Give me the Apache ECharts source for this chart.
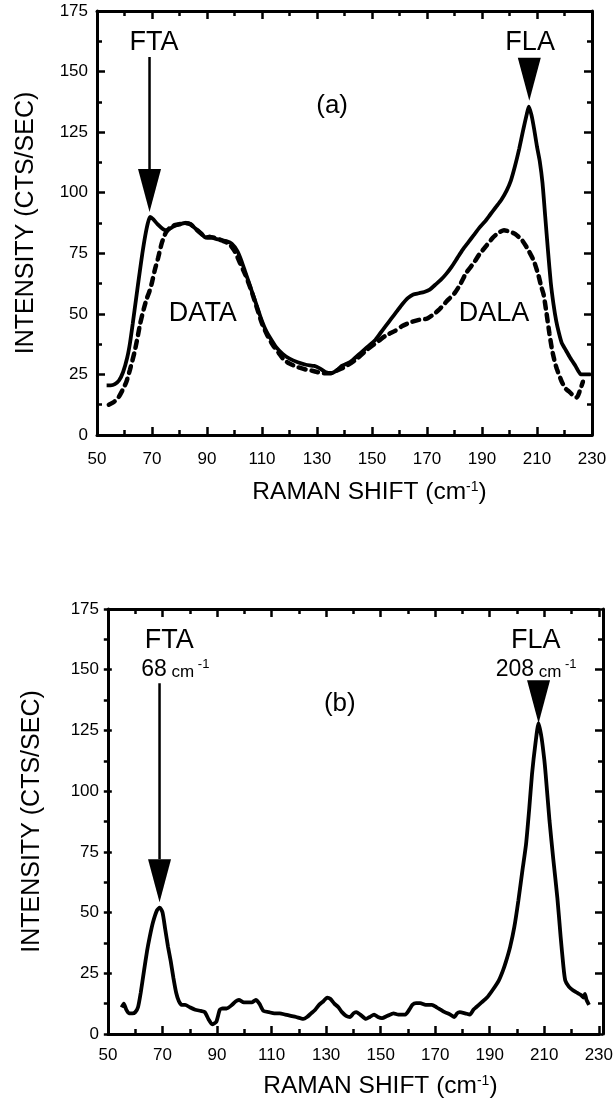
<!DOCTYPE html>
<html><head><meta charset="utf-8">
<script src="https://cdn.jsdelivr.net/npm/echarts@6/dist/echarts.min.js"></script>
<style>html,body{margin:0;padding:0;background:#fff}#c{width:616px;height:1106px}</style>
</head><body><div id="c"></div>
<script>
// ---- data ----
const xRange = [50, 230];
const xStep = 20;
const yRange = [0, 175];
const yStep = 25;

// Panel (a): solid spectrum
const topSolid = [[53.5,20.5],[55,20.5],[56.5,21],[58,22.5],[59.5,26],[61,32],[62,38],[63,46],[64.3,57],[65.5,67],[66.5,75],[67.5,82],[68.5,87.5],[69.3,90],[70.5,89],[72,87],[74,85],[75.5,84.5],[77,85.5],[78.5,86.5],[80,87],[82,87.5],[84,87],[86,85],[88,83],[89.5,81.5],[91,82],[93,81],[95,80.5],[97,80],[99,79],[101,76],[102.5,72],[104,67],[105.5,62],[107,57],[108.5,52],[110,47],[111.5,43],[113,40],[115,36.5],[117.5,33.5],[120,31.5],[123,30],[126,29],[129,28.5],[131,27.5],[133,26],[135,25.5],[137,26.5],[139,28.5],[141,29.5],[143,31],[145,33],[147,35],[149,37],[151,39],[153,42],[155,45],[157,48],[159,51],[161,54],[163,56.5],[165,58],[167,58.5],[169,59],[171,60],[173,62],[175,64],[177,66.5],[179,69.5],[181,73],[183,76.5],[185,79.5],[187,82.5],[189,85.5],[191,88],[193,91],[195,94],[197,97],[199,101],[200.5,105],[202,111],[203.5,118],[205,126],[206.2,132],[207,135.5],[208,132],[209,126],[210,119],[211,113],[212,104],[213,90],[214,76],[215,63],[216,54],[217,47],[218,42],[219,38],[220.5,35],[222,32],[224,28.5],[226,25],[228,25],[229.5,25]];

// Panel (a): dashed spectrum
const topDashed = [[54.3,12.5],[56,13.5],[57.8,15.5],[59.5,19],[60.7,22],[62,27],[63.6,34],[64.7,40],[65.7,46],[67,52],[68,56],[69,59],[70,63],[71,68],[72.2,73],[73.5,79],[75,83.5],[76.5,85.5],[78,86.5],[80,87],[82,87.5],[84,87],[86,85],[88,83],[90,81.5],[92,81.5],[94,81],[96,80],[98,79],[100,76],[102,71],[104,66],[106,60],[108,53],[110,46],[112,41],[114,37],[116,34],[118,31],[120,29.5],[123,28],[126,27],[128.3,26.5],[130,26],[132,25.5],[135,25.5],[137,26.5],[140,28],[144,31],[148,35],[152.6,39],[155,41],[158.4,43],[161,45],[164,46.5],[167,47.5],[170,48],[172,49.5],[174.3,51.6],[177,55],[180,58.5],[182,62],[184.3,67],[187,71],[189,74.5],[191.5,78],[194,81.5],[196,83.5],[198,84.5],[200,84],[202,83],[204.5,80.5],[206.5,77],[208.8,72],[210.5,66],[211.6,61],[212.4,58],[213.5,50],[214.5,42],[215.5,35],[216.5,30],[217.3,27],[219,22],[220.5,19],[221.6,18],[223,16.5],[224.5,15.5],[225.5,18],[226.7,22]];

// Panel (b): spectrum
const bottomSpectrum = [[55,11],[55.8,12.5],[56.7,10],[57.7,8.5],[59,8.5],[60,9],[61,11],[62,17],[63.2,26],[64.3,34],[65.3,40],[66.5,46],[68,51],[69,52],[70,50],[71,43],[72,36],[73,30],[74,23],[75,17],[76,13.5],[77,12],[78.3,12],[80,11],[82,10],[84,9.5],[85.5,9],[86.9,6],[88.2,4],[89.7,5],[91,10],[92,10.5],[93.5,10.5],[95.5,12],[96.9,13.5],[98,14],[99.8,13],[101.5,13],[102.7,13],[104.2,14],[105.5,12.5],[107,9.5],[109,9],[111,8.5],[113,8.5],[115,8],[117,7.5],[119,7],[121.6,6.2],[123,7],[124.5,8.5],[126,10],[127.4,12],[129,13.5],[130.4,15],[131.5,14.5],[133,12.5],[134.5,11],[135.8,9],[137.3,7.5],[138.8,7],[140,8.5],[141,9],[142.5,8],[144.6,6.2],[146,7],[147.6,8],[149,7],[150.5,6.5],[152.5,7.5],[154.7,8.5],[156.5,8],[159,8],[160.5,10],[161.6,12],[163,12.7],[164.5,12.7],[166.5,12],[168.8,12],[170.5,11],[172,10],[173.5,9],[175.5,8],[177,7],[178,8.5],[179,9],[181,8.5],[182.7,8],[184,10],[185,11],[187,13],[189,15],[191,18],[193.3,22],[194.8,26],[196,30],[197.5,36],[199,44],[200.5,55],[202,67.5],[203.3,78],[204.5,93],[205.5,107],[206.8,120],[207.9,128],[209,122],[210,113],[210.5,107],[211.9,88],[213.3,72],[214.8,56],[216,40],[217,28],[217.7,22],[219,19.5],[220.5,18],[222,17],[223.5,16],[224.4,15],[224.9,16.5],[225.5,14],[226.4,12]];

// Annotations (data coordinates)
const topTexts = [
  {pos:[70.7,161.8], text:'{b|FTA}'},
  {pos:[207.5,161.8], text:'{b|FLA}'},
  {pos:[135.5,136], text:'{p|(a)}'},
  {pos:[88.5,50.3], text:'{b|DATA}'},
  {pos:[194.4,50.3], text:'{b|DALA}'}
];
const bottomTexts = [
  {pos:[72.5,162], text:'{b|FTA}'},
  {pos:[74.7,150], text:'{n|68}{c| cm}{s| -1}'},
  {pos:[206.9,162], text:'{b|FLA}'},
  {pos:[207,150], text:'{n|208}{c| cm}{s| -1}'},
  {pos:[135,136], text:'{p|(b)}'}
];
const topShafts = [[69.1,156,109]];
const bottomShafts = [[68.9,144.4,72]];
const topHeads = [[69.1,92],[207.2,138]];
const bottomHeads = [[68.9,54.3],[207.9,128]];

// ---- chart ----
const FONT = '"Liberation Sans", Arial, Helvetica, sans-serif';
const BLACK = '#000';
const richText = {
  b:{fontSize:27, fontFamily:FONT, color:BLACK},
  p:{fontSize:26, fontFamily:FONT, color:BLACK},
  n:{fontSize:23, fontFamily:FONT, color:BLACK, verticalAlign:'bottom'},
  c:{fontSize:17, fontFamily:FONT, color:BLACK, verticalAlign:'bottom'},
  s:{fontSize:13, fontFamily:FONT, color:BLACK, verticalAlign:'top'}
};
const TICK = {show:true, length:8, lineStyle:{color:BLACK, width:2.5}};
const MINOR = {show:true, splitNumber:2, length:5, lineStyle:{color:BLACK, width:2.5}};
const LINE = {show:true, onZero:false, lineStyle:{color:BLACK, width:3}};
const NOLINE = {show:false, onZero:false};

// Labelled main axis (no ticks) + two tick-only axes shifted across the grid
// so that their outward ticks point into the plot (mirrored inside ticks).
function xAxes(g, H, gap, margin, pad){
  const base = {gridIndex:g, type:'value', min:xRange[0], max:xRange[1], interval:xStep,
    splitLine:{show:false}, minorSplitLine:{show:false}};
  return [
    Object.assign({}, base, {position:'bottom', axisLine:LINE, axisTick:{show:false}, minorTick:{show:false},
      axisLabel:{show:true, margin:margin, color:BLACK, fontSize:17, fontFamily:FONT},
      name:'{t|RAMAN SHIFT (cm}{s|-1}{t|)}', nameLocation:'middle', nameGap:gap,
      nameTextStyle:{padding:[0,0,0,pad], rich:{t:{fontSize:24.5, fontFamily:FONT, color:BLACK}, s:{fontSize:14, fontFamily:FONT, color:BLACK, verticalAlign:'top'}}}
    }),
    Object.assign({}, base, {position:'top', offset:-H, axisLine:NOLINE, axisTick:TICK, minorTick:MINOR, axisLabel:{show:false}}),
    Object.assign({}, base, {position:'bottom', offset:-H, axisLine:LINE, axisTick:TICK, minorTick:MINOR, axisLabel:{show:false}})
  ];
}
function yAxes(g, W, gap){
  const base = {gridIndex:g, type:'value', min:yRange[0], max:yRange[1], interval:yStep,
    splitLine:{show:false}, minorSplitLine:{show:false}};
  return [
    Object.assign({}, base, {position:'left', axisLine:LINE, axisTick:{show:false}, minorTick:{show:false},
      axisLabel:{show:true, margin:9, color:BLACK, fontSize:17, fontFamily:FONT},
      name:'INTENSITY (CTS/SEC)', nameLocation:'middle', nameGap:gap,
      nameTextStyle:{fontSize:25, fontFamily:FONT, color:BLACK}
    }),
    Object.assign({}, base, {position:'right', offset:-W, axisLine:NOLINE, axisTick:TICK, minorTick:MINOR, axisLabel:{show:false}}),
    Object.assign({}, base, {position:'left', offset:-W, axisLine:LINE, axisTick:TICK, minorTick:MINOR, axisLabel:{show:false}})
  ];
}

function textSeries(list, xi, yi){
  return {
    type:'scatter', xAxisIndex:xi, yAxisIndex:yi, symbolSize:1, silent:true,
    itemStyle:{color:'rgba(0,0,0,0)', opacity:1},
    data: list.map(t => ({value:t.pos, label:{show:true, position:'inside', opacity:1, formatter:t.text, rich:richText}})),
    z:5
  };
}
function shaftSeries(list, xi, yi){
  return list.map(s => ({
    type:'line', xAxisIndex:xi, yAxisIndex:yi, symbol:'none', silent:true,
    lineStyle:{color:BLACK, width:2.5}, data:[[s[0],s[1]],[s[0],s[2]]]
  }));
}
function headSeries(list, xi, yi){
  return {
    type:'scatter', xAxisIndex:xi, yAxisIndex:yi, silent:true,
    symbol:'triangle', symbolSize:[23,43], symbolRotate:180, symbolOffset:[0,'-50%'],
    itemStyle:{color:BLACK, opacity:1}, data:list, z:4
  };
}

const G = [
  {left:97, top:11, width:495, height:424},
  {left:108, top:609, width:495, height:425}
];

const chart = echarts.init(document.getElementById('c'), null, {renderer:'canvas'});
chart.setOption({
  animation:false,
  backgroundColor:'#fff',
  grid:G,
  xAxis:[...xAxes(0, G[0].height, 45, 16, 50), ...xAxes(1, G[1].height, 40, 13, 54)],
  yAxis:[...yAxes(0, G[0].width, 58), ...yAxes(1, G[1].width, 63)],
  series:[
    {type:'line', xAxisIndex:0, yAxisIndex:0, data:topSolid, symbol:'none', smooth:0.2,
      lineStyle:{color:BLACK, width:3.8}},
    {type:'line', xAxisIndex:0, yAxisIndex:0, data:topDashed, symbol:'none', smooth:0.2,
      lineStyle:{color:BLACK, width:4.5, type:[7,6], cap:'round'}},
    {type:'line', xAxisIndex:3, yAxisIndex:3, data:bottomSpectrum, symbol:'none', smooth:0.2,
      lineStyle:{color:BLACK, width:3.8}},
    ...shaftSeries(topShafts, 0, 0),
    ...shaftSeries(bottomShafts, 3, 3),
    headSeries(topHeads, 0, 0),
    headSeries(bottomHeads, 3, 3),
    textSeries(topTexts, 0, 0),
    textSeries(bottomTexts, 3, 3)
  ]
});
</script>
</body></html>
